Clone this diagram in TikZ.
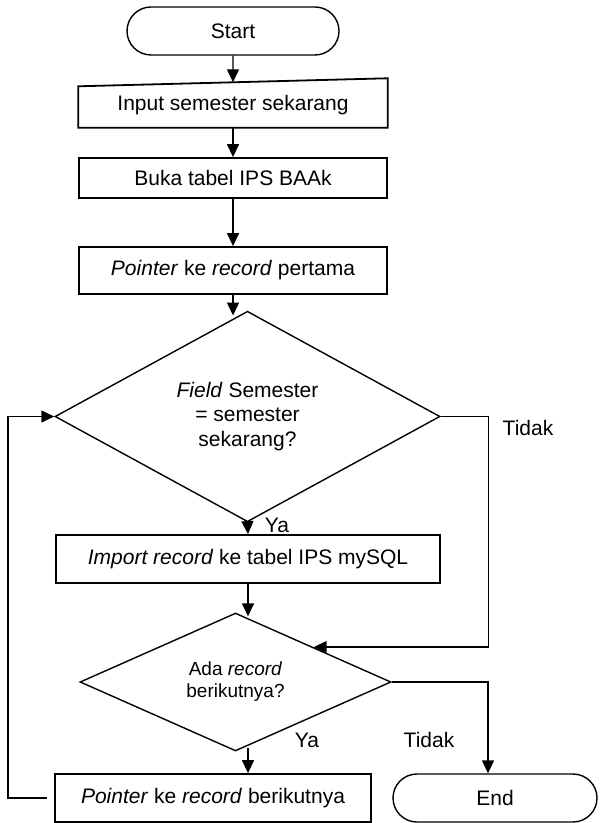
\documentclass[tikz,border=0pt]{standalone}
\usepackage{fontspec}
\setmainfont{Liberation Sans}
\usetikzlibrary{shapes.geometric, shapes.misc, arrows.meta, calc}

\begin{document}
\begin{tikzpicture}[x=0.5pt, y=-0.5pt, line width=0.7pt,
  font=\fontsize{10.5}{12.3}\selectfont,
  term/.style={draw, rounded rectangle, minimum width=#1, minimum height=24pt, inner sep=0pt},
  proc/.style={draw, rectangle, line width=0.9pt, minimum width=#1, inner sep=0pt},
  decis/.style={draw, diamond, align=center, inner sep=0pt},
  arr/.style={-{Triangle[length=6.5pt, width=6pt]}}]
\useasboundingbox (0,0) rectangle (599,823);
\node[term=106pt] (start) at (233,31) {Start};
\node[minimum width=154pt, minimum height=22pt, inner sep=0pt] (inp) at (233,105) {Input semester sekarang};
\draw[line width=0.9pt] (inp.south west) -- (inp.south east) -- ([yshift=2pt]inp.north east) -- ([yshift=-2pt]inp.north west) -- cycle;
\node[proc=154pt, minimum height=20pt] (buka) at (233,178) {Buka tabel IPS BAAk};
\node[proc=154pt, minimum height=23.5pt] (ptr1) at (233,270.5) {\textit{Pointer} ke \textit{record} pertama};
\node[decis, minimum width=192.5pt, minimum height=73.5pt] (d1) at (247.5,416.5) {\textit{Field} Semester\\= semester\\sekarang?};
\node[proc=192pt, minimum height=24pt] (imp) at (248,559) {\textit{Import record} ke tabel IPS mySQL};
\node[decis, minimum width=155.5pt, minimum height=51pt, font=\fontsize{9.5}{11}\selectfont] (d2) at (235.5,682) {Ada \textit{record}\\berikutnya?};
\node[proc=158pt, minimum height=24pt] (ptr2) at (213,798) {\textit{Pointer} ke \textit{record} berikutnya};
\node[term=102pt] (end) at (495,798) {End};
\node (ya1) at (277,525) {Ya};
\node (tidak1) at (528,428) {Tidak};
\node (ya2) at (307,740) {Ya};
\node (tidak2) at (429,740) {Tidak};

\draw[arr] (start) -- (inp.north);
\draw[arr] (inp) -- (buka);
\draw[arr] (buka) -- (ptr1);
\draw[arr] (ptr1.south) -- ($(ptr1.south |- d1.north)+(0,5)$);
\draw[arr] (d1.south) -- (imp.north);
\draw[arr] (imp.south) -- ($(imp.south |- d2.north)+(0,4)$);
\draw[arr] (d1.east) -- ++(48,0) |- (d2.north east);
\draw[arr] (d2.east) -| ([xshift=-3.5pt]end.north);
\draw[arr] ($(imp.south |- d2.south)+(0,-4)$) -- (imp.south |- ptr2.north);
\draw[arr, shorten <=3.5pt] (ptr2.west) -- ++(-46,0) |- (d1.west);
\end{tikzpicture}
\end{document}
